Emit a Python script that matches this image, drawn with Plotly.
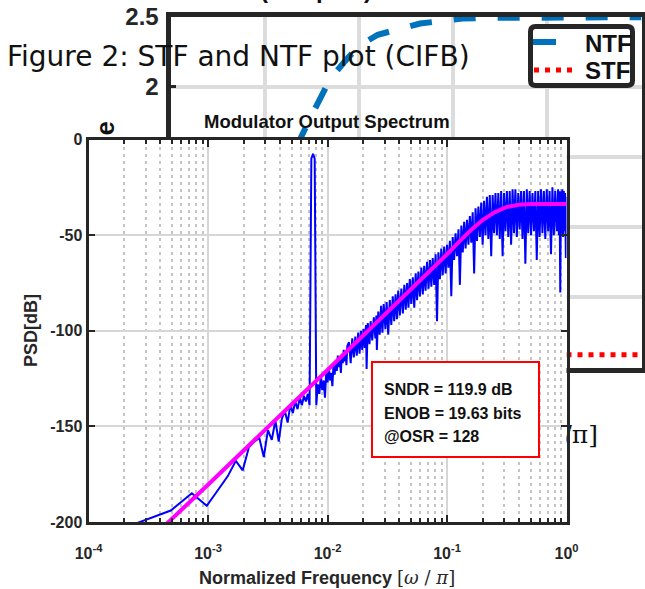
import plotly.graph_objects as go

W, H = 645, 589


def px(x):
    return x / W


def py(y):
    return 1 - y / H


# Background figure: STF / NTF magnitude (mostly hidden behind the spectrum)
ntf_w = [0.0, 0.05, 0.1, 0.15, 0.2, 0.25, 0.3, 0.32, 0.34, 0.37, 0.4, 0.44,
         0.49, 0.53, 0.58, 0.62, 0.67, 0.75, 0.85, 1.0]
ntf_mag = [0.0, 0.05, 0.2, 0.5, 0.95, 1.45, 1.8, 1.92, 2.06, 2.18, 2.29, 2.37,
           2.42, 2.45, 2.47, 2.485, 2.49, 2.493, 2.495, 2.495]
stf_w = [0.0, 0.5, 1.0]
stf_mag = [0.09, 0.09, 0.09]

# Modulator output spectrum, FFT bins of an 8192 point FFT
N_FFT = 8192
psd_bins = [1, 2, 3, 4, 5, 6, 7, 8, 9, 10, 11, 12, 13, 14, 15, 16, 17, 18, 19, 20,
            21, 22, 23, 24, 25, 26, 27, 28, 29, 30, 31, 32, 33, 34, 35, 36, 37, 38, 39, 40,
            41, 42, 43, 44, 45, 46, 47, 48, 49, 50, 51, 52, 53, 54, 55, 56, 57, 58, 59, 60,
            62, 64, 66, 68, 70, 72, 74, 76, 78, 80, 82, 84, 86, 87, 89, 92, 94, 97, 100, 103,
            105, 106, 109, 112, 115, 118, 121, 125, 128, 132, 136, 140, 144, 148, 152, 156,
            160, 165, 170, 175, 180, 185, 190, 195, 200, 206, 212, 218, 224, 230, 236, 243,
            250, 257, 264, 271, 279, 287, 295, 303, 311, 320, 329, 338, 347, 357, 367, 377,
            388, 399, 410, 421, 433, 445, 457, 470, 483, 497, 511, 525, 540, 555, 570, 586,
            602, 619, 636, 654, 672, 691, 710, 730, 750, 771, 792, 814, 837, 860, 884, 909,
            934, 960, 987, 1014, 1042, 1071, 1101, 1132, 1163, 1196, 1229, 1263, 1298, 1334,
            1371, 1409, 1449, 1489, 1530, 1573, 1617, 1662, 1708, 1755, 1804, 1854, 1906,
            1959, 2013, 2069, 2127, 2186, 2247, 2309, 2373, 2439, 2507, 2577, 2648, 2722,
            2798, 2876, 2956, 3038, 3122, 3209, 3298, 3390, 3484, 3533, 3581, 3632, 3681,
            3732, 3783, 3835, 3888, 3942, 3996, 4046, 4096]
psd_db = [-201, -194, -185, -191.5, -183, -176, -168, -173, -161, -158,
          -156, -166, -152, -157, -147, -158, -146, -142, -148, -139,
          -143, -137, -141, -135, -139, -134, -137, -133, -139, -10,
          -7.5, -10, -139, -128, -133, -124, -131, -126, -135, -121,
          -127, -119, -126, -122, -129, -117, -123, -116, -121, -113,
          -119, -115, -122, -112, -117, -110, -116, -111, -118, -108,
          -106, -117, -104, -114, -103, -113, -101, -112, -100, -110,
          -99, -109, -97, -120, -96, -107, -95, -105, -93, -104,
          -92, -110, -90, -102, -87, -101, -86, -99, -85, -102,
          -84, -97, -82, -95, -81, -94, -79, -92, -78, -91,
          -76, -89, -75, -88, -73, -86, -72, -88, -70, -84,
          -69, -82, -67, -81, -66, -79, -64, -78, -63, -77,
          -62, -76, -60, -95, -59, -73, -57, -71, -56, -70,
          -55, -67, -53, -82, -51, -63, -49, -61, -47, -76,
          -45, -59, -43, -57, -42, -55, -40, -54, -38, -70,
          -36, -53, -35, -51, -33, -55, -32, -50, -30, -52,
          -29, -61, -29, -49, -28, -50, -28, -52, -27, -61,
          -28, -48, -27, -51, -27, -55, -26, -49, -26, -51,
          -28, -47, -27, -52, -27, -65, -26, -49, -27, -50,
          -28, -48, -27, -63, -27, -51, -26, -49, -27, -52,
          -26, -48, -27, -60, -25, -50, -27, -48, -26, -50,
          -27, -80, -27, -49, -26, -51, -27, -48, -28, -62,
          -30]
psd_f = [k * 2 / N_FFT for k in psd_bins]

# theoretical NTF shape overlaid in magenta
fit_f = [4.0e-4, 1e-3, 1e-2, 0.0316, 0.063, 0.079, 0.1, 0.126, 0.158, 0.2,
         0.251, 0.316, 0.398, 0.501, 1.0]
fit_db = [-204, -180.5, -120.5, -90.5, -72.3, -66.3, -60, -53.5, -47.5, -42,
          -38, -35.3, -34.1, -33.7, -33.7]

x_ticks = [1e-4, 1e-3, 1e-2, 1e-1, 1]
x_ticktext = ['10<sup>-4</sup>', '10<sup>-3</sup>', '10<sup>-2</sup>',
              '10<sup>-1</sup>', '10<sup>0</sup>']
y_ticks = [-200, -150, -100, -50, 0]
y_ticktext = ['-200', '-150', '-100', '-50', '0']
minor_x = [m * 10.0 ** e for e in range(-4, 0) for m in range(2, 10)]

INK = '#262626'
SANS = 'Liberation Sans, Arial, sans-serif'

fig = go.Figure()

fig.add_trace(go.Scatter(x=ntf_w, y=ntf_mag, name='NTF', mode='lines',
                         line=dict(color='#0072BD', width=6, dash='22px,22px'),
                         xaxis='x', yaxis='y'))
fig.add_trace(go.Scatter(x=stf_w, y=stf_mag, name='STF', mode='lines',
                         line=dict(color='#FF0000', width=5, dash='5px,6px'),
                         xaxis='x', yaxis='y'))
fig.add_trace(go.Scatter(x=psd_f, y=psd_db, mode='lines',
                         line=dict(color='#0000FF', width=2),
                         xaxis='x2', yaxis='y2'))
fig.add_trace(go.Scatter(x=fit_f, y=fit_db, mode='lines',
                         line=dict(color='#FF00FF', width=4),
                         xaxis='x2', yaxis='y2'))

bg_tickfont = dict(family=SANS, size=24, color=INK, weight='bold')
in_tickfont = dict(family=SANS, size=16, color=INK, weight='bold')

fig.update_layout(
    width=W, height=H,
    margin=dict(l=0, r=0, t=0, b=0, autoexpand=False),
    paper_bgcolor='white', plot_bgcolor='white',
    showlegend=False,
    xaxis=dict(domain=[px(170.5), px(641.5)], range=[0, 1], tick0=0, dtick=0.2,
               anchor='y', showgrid=True, gridcolor='#dcdcdc', gridwidth=4,
               zeroline=False, showline=True, linecolor=INK, linewidth=5, mirror=True,
               ticks='inside', ticklen=5, tickwidth=3, tickcolor=INK,
               tickfont=bg_tickfont, ticklabelstandoff=8),
    yaxis=dict(domain=[py(367.5), py(16.5)], range=[0, 2.5], tick0=0, dtick=0.5,
               anchor='x', showgrid=True, gridcolor='#dcdcdc', gridwidth=4,
               zeroline=False, showline=True, linecolor=INK, linewidth=5, mirror=True,
               ticks='inside', ticklen=5, tickwidth=3, tickcolor=INK,
               tickfont=bg_tickfont, ticklabelstandoff=2),
    xaxis2=dict(type='log', domain=[px(88.5), px(566.5)], range=[-4, 0], anchor='y2',
                tickmode='array', tickvals=x_ticks, ticktext=x_ticktext,
                showgrid=True, gridcolor='#d6d6d6', gridwidth=1.5, zeroline=False,
                showline=True, linecolor=INK, linewidth=3, mirror='ticks',
                ticks='inside', ticklen=7, tickwidth=2, tickcolor=INK,
                tickfont=in_tickfont, ticklabelstandoff=15,
                minor=dict(tickmode='array', tickvals=minor_x, ticks='inside',
                           ticklen=4, tickwidth=2, tickcolor=INK, showgrid=True,
                           gridcolor='#c4c4c4', gridwidth=2, griddash='3px,4px')),
    yaxis2=dict(domain=[py(522), py(139.5)], range=[-200, 0], anchor='x2',
                tickmode='array', tickvals=y_ticks, ticktext=y_ticktext,
                showgrid=True, gridcolor='#d6d6d6', gridwidth=1.5,
                zeroline=False, showline=True, linecolor=INK, linewidth=3, mirror='ticks',
                ticks='inside', ticklen=6, tickwidth=2, tickcolor=INK,
                tickfont=in_tickfont, ticklabelstandoff=0),
)

# axis titles of the background figure sit under the spectrum panel
fig.add_shape(type='rect', xref='paper', yref='paper', layer='below',
              x0=px(88), x1=px(118), y0=py(252), y1=py(120),
              line=dict(width=0), fillcolor='rgba(0,0,0,0)',
              label=dict(text='Magnitude', textangle=-90, textposition='middle center',
                         padding=0,
                         font=dict(family=SANS, size=26, color='#111', weight='bold')))
fig.add_shape(type='rect', xref='paper', yref='paper', layer='below',
              x0=px(150), x1=px(601), y0=py(446), y1=py(418),
              line=dict(width=0), fillcolor='rgba(0,0,0,0)',
              label=dict(text='Normalized Frequency <span style="font-family:DejaVu Serif;'
                              'font-weight:normal">[ω/π]</span>',
                         textposition='middle right', padding=0,
                         font=dict(family=SANS, size=25, color='#111', weight='bold')))

# legend of the background figure
lx0, lx1, ly0, ly1, r = 530.5, 632.5, 26.5, 85.5, 5
legend_path = (f'M {px(lx0 + r)},{py(ly0)} L {px(lx1 - r)},{py(ly0)} '
               f'Q {px(lx1)},{py(ly0)} {px(lx1)},{py(ly0 + r)} L {px(lx1)},{py(ly1 - r)} '
               f'Q {px(lx1)},{py(ly1)} {px(lx1 - r)},{py(ly1)} L {px(lx0 + r)},{py(ly1)} '
               f'Q {px(lx0)},{py(ly1)} {px(lx0)},{py(ly1 - r)} L {px(lx0)},{py(ly0 + r)} '
               f'Q {px(lx0)},{py(ly0)} {px(lx0 + r)},{py(ly0)} Z')
fig.add_shape(type='path', path=legend_path, xref='paper', yref='paper', layer='above',
              line=dict(color=INK, width=5), fillcolor='white')
fig.add_shape(type='line', xref='paper', yref='paper', layer='above',
              x0=px(533), x1=px(556), y0=py(42), y1=py(42),
              line=dict(color='#0072BD', width=6))
fig.add_shape(type='line', xref='paper', yref='paper', layer='above',
              x0=px(534), x1=px(574), y0=py(70), y1=py(70),
              line=dict(color='#FF0000', width=5, dash='5px,6px'))
for name, yy in [('NTF', 43), ('STF', 70)]:
    fig.add_annotation(text=name, x=px(583), y=py(yy), xref='paper', yref='paper',
                       xanchor='left', yanchor='middle', showarrow=False,
                       font=dict(family=SANS, size=24, color='#111', weight='bold'))

# SNDR text box
fig.add_shape(type='rect', xref='paper', yref='paper', layer='above',
              x0=px(372), x1=px(539), y0=py(457), y1=py(362),
              line=dict(color='#FF0000', width=2), fillcolor='white')

box_lines = ['SNDR = 119.9 dB', 'ENOB = 19.63 bits', '@OSR = 128']
box_y = [389, 413, 436]
for txt, yy in zip(box_lines, box_y):
    fig.add_annotation(text=txt, x=px(382), y=py(yy), xref='paper', yref='paper',
                       xanchor='left', yanchor='middle', showarrow=False,
                       font=dict(family=SANS, size=16, color='#111', weight='bold'))

fig.add_annotation(text='Modulator Output Spectrum', x=px(327), y=py(122),
                   xref='paper', yref='paper', showarrow=False,
                   xanchor='center', yanchor='middle',
                   font=dict(family=SANS, size=18.5, color='#111', weight='bold'))
fig.add_annotation(text='Normalized Frequency <span style="font-family:DejaVu Serif;'
                        'font-weight:normal">[<i>ω</i> / <i>π</i>]</span>',
                   x=px(327), y=py(577), xref='paper', yref='paper', showarrow=False,
                   xanchor='center', yanchor='middle',
                   font=dict(family=SANS, size=18, color=INK, weight='bold'))
fig.add_annotation(text='PSD[dB]', x=px(31), y=py(331), xref='paper', yref='paper',
                   showarrow=False, textangle=-90, xanchor='center', yanchor='middle',
                   font=dict(family=SANS, size=18, color=INK, weight='bold'))

# background title, cut off by the top edge
fig.add_annotation(text='(samples)', x=px(374), y=py(5), xref='paper', yref='paper',
                   showarrow=False, xanchor='right', yanchor='bottom',
                   font=dict(family=SANS, size=24, color='#111', weight='bold'))

fig.add_annotation(text='Figure 2: STF and NTF plot (CIFB)', x=px(5), y=py(56),
                   xref='paper', yref='paper', showarrow=False,
                   xanchor='left', yanchor='middle',
                   font=dict(family='DejaVu Sans, sans-serif', size=28, color='#111'))

# the page's default body margin would shift the figure by 8 px
fig.write_html("out.html", config={'displayModeBar': False},
               post_script="document.body.style.margin = '0';")
